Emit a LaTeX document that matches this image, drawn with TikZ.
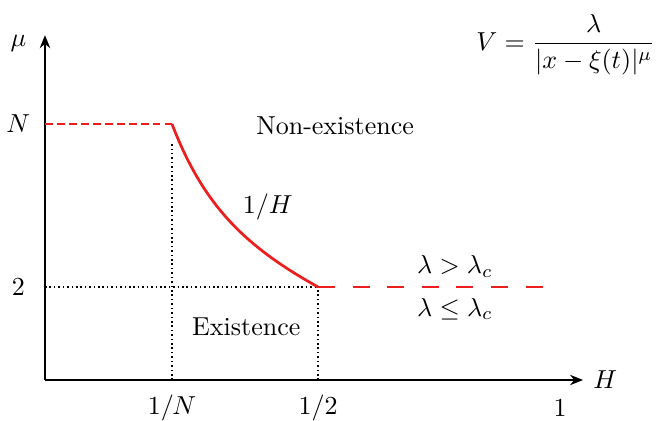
\documentclass[tikz,border=0pt]{standalone}
\usepackage{amsmath,amssymb}
\usepackage{xcolor}
\usepackage{tikz}
\usetikzlibrary{calc,arrows.meta,positioning}
\definecolor{phaseRed}{RGB}{236,30,30}

\begin{document}
\begin{tikzpicture}[x=1cm,y=1cm,
    axis/.style={black, line width=0.6pt, -{Stealth[length=5pt,width=4pt]}},
    guide/.style={black, dash pattern=on 0.6pt off 1.1pt, line width=0.5pt},
    border/.style={phaseRed, line width=1.05pt},
    lbl/.style={inner sep=1pt}]
    \useasboundingbox (-0.608,-0.554) rectangle (8.324,5.135);

    % key points
    \coordinate (O) at (0,0);
    \coordinate (Hend) at (7.27,0);
    \coordinate (Mend) at (0,4.66);
    \coordinate (Nleft) at (0,3.46);
    \coordinate (Tleft) at (0,1.257);
    \coordinate (pN) at (1.716,3.46);
    \coordinate (pNtop) at (1.716,3.2);
    \coordinate (pNbot) at (1.716,0);
    \coordinate (pH) at (3.69,1.257);
    \coordinate (pHbot) at (3.69,0);
    \coordinate (pEnd) at (6.82,1.257);

    % axes
    \draw[axis] (O) -- (Hend);
    \draw[axis] (O) -- (Mend);
    \node[lbl] (hlab) at (7.57,0) {$H$};
    \node[lbl] (mulab) at (-0.36,4.55) {$\mu$};

    % ticks
    \node[lbl] (nlab) at (-0.36,3.46) {$N$};
    \node[lbl] (twolab) at (-0.36,1.257) {$2$};
    \node[lbl] (invN) at (1.716,-0.38) {$1/N$};
    \node[lbl] (half) at (3.69,-0.38) {$1/2$};
    \node[lbl] (one) at (6.96,-0.38) {$1$};

    % guides
    \draw[guide] (pNbot) -- (pNtop);
    \draw[guide] (pHbot) -- (pH);
    \draw[guide] (Tleft) -- (pH);

    % phase boundary
    \draw[border, dash pattern=on 3pt off 1.6pt] (Nleft) -- (pN);
    \draw[border] (pN) to[out=-69,in=151] (pH);
    \draw[border, dash pattern=on 6.5pt off 6.8pt] (pH) -- (pEnd);

    % regions
    \node (nonex) at (3.92,3.43) {Non-existence};
    \node (ex) at (2.72,0.72) {Existence};
    \node (curve) at (3.01,2.34) {$1/H$};
    \node (above) at (5.54,1.54) {$\lambda>\lambda_c$};
    \node (below) at (5.54,0.96) {$\lambda\leq\lambda_c$};
    \node (pot) at (7.04,4.53) {$V=\dfrac{\lambda}{|x-\xi(t)|^{\mu}}$};
\end{tikzpicture}
\end{document}
